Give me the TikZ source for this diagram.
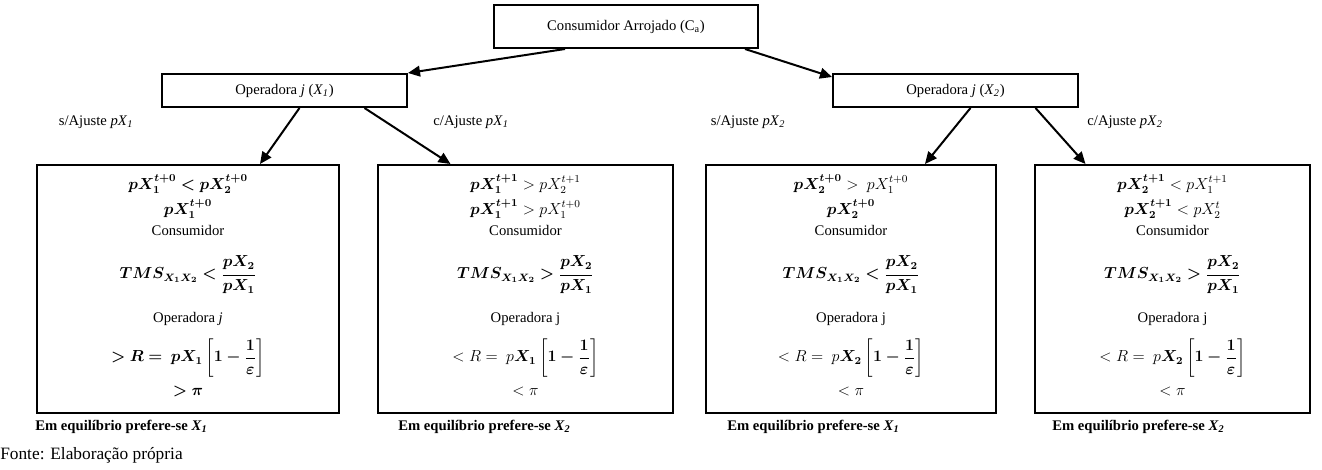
\documentclass[tikz,border=0pt]{standalone}
\usepackage{amsmath,amssymb}
\usepackage{bm}
\usepackage[no-math]{fontspec}
\setmainfont{Liberation Serif}
\usetikzlibrary{arrows.meta,calc}

\begin{document}
\begin{tikzpicture}[x=0.75pt,y=-0.75pt,
    texto/.style={font=\fontsize{11}{13}\selectfont, inner sep=0pt},
    mat/.style={font=\fontsize{12}{14}\selectfont, inner sep=0pt},
    caixa/.style={draw, line width=1.5pt, inner sep=0pt},
    seta/.style={line width=1.5pt, -{Triangle[length=9pt,width=8pt]}},
    nota/.style={font=\fontsize{11}{13}\selectfont\bfseries, anchor=west, inner sep=0pt}]
    \useasboundingbox (0,0) rectangle (1322,470);

    % Topo e operadoras
    \node[texto, caixa, minimum width=198pt, minimum height=32.25pt] (arroj) at (626,26.5) {Consumidor Arrojado (C\textsubscript{a})};
    \node[texto, caixa, minimum width=183.75pt, minimum height=24.75pt] (op1) at (284.5,90.5) {Operadora \textit{j} (\textit{X}\textsubscript{\textit{1}})};
    \node[texto, caixa, minimum width=183.75pt, minimum height=24.75pt] (op2) at (955.5,90.5) {Operadora \textit{j} (\textit{X}\textsubscript{\textit{2}})};

    \node[texto] (sem1) at (96,122) {s/Ajuste \textit{pX}\textsubscript{\textit{1}}};
    \node[texto] (com1) at (471,122) {c/Ajuste \textit{pX}\textsubscript{\textit{1}}};
    \node[texto] (sem2) at (748,122) {s/Ajuste \textit{pX}\textsubscript{\textit{2}}};
    \node[texto] (com2) at (1125,122) {c/Ajuste \textit{pX}\textsubscript{\textit{2}}};

    % Caixas de resultado
    \node[caixa, minimum width=226.5pt, minimum height=186pt] (semX1) at (188,289) {};
    \node[caixa, minimum width=221.25pt, minimum height=186pt] (comX1) at (525.5,289) {};
    \node[caixa, minimum width=217.5pt, minimum height=186pt] (semX2) at (851,289) {};
    \node[caixa, minimum width=206.25pt, minimum height=186pt] (comX2) at (1172.5,289) {};

    % Setas
    \draw[seta] ($(arroj.south)+(-61,0)$) -- (op1.north east);
    \draw[seta] ($(arroj.south)+(119,0)$) -- ($(op2.north west)+(0,4)$);
    \draw[seta] ($(op1.south)+(15,0)$) -- ($(semX1.north)+(72,0)$);
    \draw[seta] ($(op1.south)+(80,0)$) -- ($(comX1.north)+(-75,0)$);
    \draw[seta] ($(op2.south)+(15,0)$) -- ($(semX2.north)+(74,0)$);
    \draw[seta] ($(op2.south)+(80,0)$) -- ($(comX2.north)+(-87,0)$);

    % s/Ajuste pX1
    \node[mat] (a1) at (188,184) {$\bm{pX_1^{t+0} < pX_2^{t+0}}$};
    \node[mat] (a2) at (188,209) {$\bm{pX_1^{t+0}}$};
    \node[texto] (a3) at (188,230) {Consumidor};
    \node[mat] (a4) at (188,275) {$\displaystyle\bm{TMS_{X_1X_2} < \frac{pX_2}{pX_1}}$};
    \node[texto] (a5) at (188,319) {Operadora \textit{j}};
    \node[mat] (a6) at (188,358) {$\displaystyle\bm{> R =}\ \bm{pX_1}\left[\bm{1-\frac{1}{\varepsilon}}\right]$};
    \node[mat] (a7) at (188,392) {$\bm{> \pi}$};

    % c/Ajuste pX1
    \node[mat] (b1) at (525.5,184) {$\bm{pX_1^{t+1}} > pX_2^{t+1}$};
    \node[mat] (b2) at (525.5,209) {$\bm{pX_1^{t+1}} > pX_1^{t+0}$};
    \node[texto] (b3) at (525.5,230) {Consumidor};
    \node[mat] (b4) at (525.5,275) {$\displaystyle\bm{TMS_{X_1X_2} > \frac{pX_2}{pX_1}}$};
    \node[texto] (b5) at (525.5,319) {Operadora j};
    \node[mat] (b6) at (525.5,358) {$\displaystyle < R =\ p\bm{X_1}\left[\bm{1-\frac{1}{\varepsilon}}\right]$};
    \node[mat] (b7) at (525.5,392) {$< \pi$};

    % s/Ajuste pX2
    \node[mat] (c1) at (851,184) {$\bm{pX_2^{t+0}} >\ pX_1^{t+0}$};
    \node[mat] (c2) at (851,209) {$\bm{pX_2^{t+0}}$};
    \node[texto] (c3) at (851,230) {Consumidor};
    \node[mat] (c4) at (851,275) {$\displaystyle\bm{TMS_{X_1X_2} < \frac{pX_2}{pX_1}}$};
    \node[texto] (c5) at (851,319) {Operadora j};
    \node[mat] (c6) at (851,358) {$\displaystyle < R =\ p\bm{X_2}\left[\bm{1-\frac{1}{\varepsilon}}\right]$};
    \node[mat] (c7) at (851,392) {$< \pi$};

    % c/Ajuste pX2
    \node[mat] (d1) at (1172.5,184) {$\bm{pX_2^{t+1}} < pX_1^{t+1}$};
    \node[mat] (d2) at (1172.5,209) {$\bm{pX_2^{t+1}} < pX_2^{t}$};
    \node[texto] (d3) at (1172.5,230) {Consumidor};
    \node[mat] (d4) at (1172.5,275) {$\displaystyle\bm{TMS_{X_1X_2} > \frac{pX_2}{pX_1}}$};
    \node[texto] (d5) at (1172.5,319) {Operadora j};
    \node[mat] (d6) at (1172.5,358) {$\displaystyle < R =\ p\bm{X_2}\left[\bm{1-\frac{1}{\varepsilon}}\right]$};
    \node[mat] (d7) at (1172.5,392) {$< \pi$};

    % Rodape
    \node[nota] (eq1) at (35,427) {Em equilíbrio prefere-se \textit{X}\textsubscript{\textit{1}}};
    \node[nota] (eq2) at (398,427) {Em equilíbrio prefere-se \textit{X}\textsubscript{\textit{2}}};
    \node[nota] (eq3) at (727,427) {Em equilíbrio prefere-se \textit{X}\textsubscript{\textit{1}}};
    \node[nota] (eq4) at (1052,427) {Em equilíbrio prefere-se \textit{X}\textsubscript{\textit{2}}};
    \node[texto, anchor=west, font=\fontsize{13}{15}\selectfont] (fonte) at (0,455) {Fonte: Elaboração própria};
\end{tikzpicture}
\end{document}
